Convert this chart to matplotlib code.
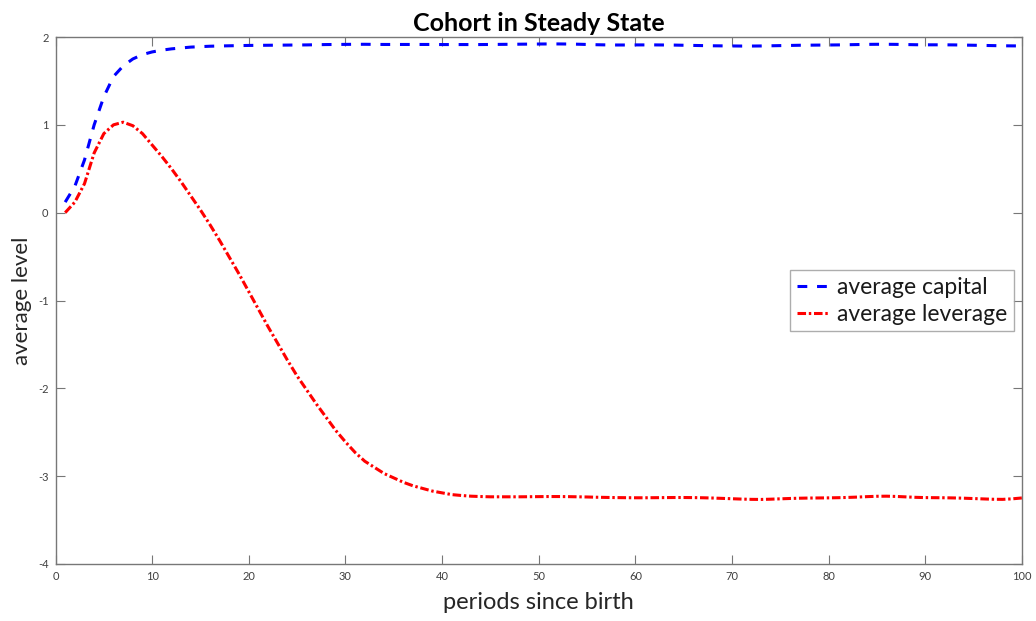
import matplotlib
matplotlib.use("Agg")
import matplotlib.pyplot as plt

periods = list(range(1, 101))

avg_capital = [
    0.12, 0.30, 0.60, 1.00, 1.32, 1.55, 1.67, 1.75, 1.80, 1.83,
    1.85, 1.865, 1.875, 1.885, 1.89, 1.895, 1.898, 1.900, 1.902, 1.904,
    1.905, 1.906, 1.907, 1.908, 1.909, 1.910, 1.912, 1.914, 1.915, 1.916,
    1.917, 1.917, 1.916, 1.915, 1.915, 1.915, 1.915, 1.915, 1.915, 1.914,
    1.914, 1.914, 1.914, 1.914, 1.915, 1.916, 1.917, 1.918, 1.919, 1.920,
    1.921, 1.921, 1.920, 1.918, 1.915, 1.912, 1.910, 1.909, 1.909, 1.910,
    1.910, 1.910, 1.909, 1.908, 1.906, 1.904, 1.902, 1.900, 1.899, 1.898,
    1.897, 1.897, 1.898, 1.900, 1.902, 1.904, 1.906, 1.907, 1.908, 1.909,
    1.910, 1.912, 1.914, 1.916, 1.917, 1.917, 1.916, 1.914, 1.912, 1.911,
    1.911, 1.911, 1.910, 1.908, 1.906, 1.904, 1.902, 1.900, 1.899, 1.898,
]

avg_leverage = [
    0.00, 0.12, 0.33, 0.68, 0.90, 1.00, 1.03, 0.99, 0.90, 0.77,
    0.64, 0.50, 0.35, 0.19, 0.03, -0.14, -0.32, -0.51, -0.70, -0.90,
    -1.10, -1.30, -1.49, -1.68, -1.86, -2.02, -2.18, -2.33, -2.48, -2.61,
    -2.73, -2.83, -2.90, -2.97, -3.02, -3.07, -3.11, -3.14, -3.17, -3.19,
    -3.21, -3.22, -3.228, -3.232, -3.235, -3.235, -3.235, -3.235, -3.234, -3.233,
    -3.232, -3.232, -3.233, -3.235, -3.237, -3.240, -3.242, -3.244, -3.245, -3.246,
    -3.246, -3.245, -3.244, -3.243, -3.243, -3.244, -3.246, -3.249, -3.253, -3.257,
    -3.261, -3.264, -3.265, -3.262, -3.258, -3.254, -3.251, -3.249, -3.248, -3.247,
    -3.245, -3.242, -3.238, -3.233, -3.229, -3.228, -3.231, -3.236, -3.241, -3.244,
    -3.245, -3.246, -3.248, -3.251, -3.255, -3.259, -3.263, -3.264, -3.258, -3.248,
]

x_ticks = [0, 10, 20, 30, 40, 50, 60, 70, 80, 90, 100]
y_ticks = [-4, -3, -2, -1, 0, 1, 2]

plt.rcParams['font.family'] = ['Lato', 'DejaVu Sans']

fig = plt.figure(figsize=(10.36, 6.21), dpi=100)
ax = fig.add_axes([55.5 / 1036, 57 / 621, (1022 - 55.5) / 1036, (564 - 37) / 621])

ax.plot(periods, avg_capital, color='#0000ff', lw=2.2, linestyle=(0, (3.2, 3.2)),
        label='average capital')
ax.plot(periods, avg_leverage, color='#ff0000', lw=2.2, linestyle=(0, (2.8, 0.9, 0.8, 0.9)),
        label='average leverage')

ax.set_xlim(0, 100)
ax.set_ylim(-4, 2)
ax.set_xticks(x_ticks)
ax.set_yticks(y_ticks)
ax.set_xticklabels([str(v) for v in x_ticks])
ax.set_yticklabels([str(v) for v in y_ticks])

spine_col = '#777777'
for s in ax.spines.values():
    s.set_color(spine_col)
    s.set_linewidth(1.0)
ax.tick_params(direction='in', length=6.5, width=0.8, color=spine_col,
               labelsize=8, labelcolor='#404040', top=True, right=True, pad=5)

ax.set_title('Cohort in Steady State', fontsize=18, fontweight='bold', color='black', pad=4)
ax.set_xlabel('periods since birth', fontsize=17, color='#262626', labelpad=7)
ax.set_ylabel('average level', fontsize=16, color='#262626', labelpad=4)

leg = ax.legend(loc='upper left', bbox_to_anchor=((790 - 55.5) / 966.5, (564 - 270) / 527),
                borderaxespad=0, fontsize=16.5, frameon=True, fancybox=False,
                handlelength=1.45, handletextpad=0.3, borderpad=0.3, labelspacing=0.25)
leg.get_frame().set_edgecolor('#999999')
leg.get_frame().set_linewidth(1.0)
for t in leg.get_texts():
    t.set_color('#1a1a1a')

fig.savefig('out.png', dpi=100)
